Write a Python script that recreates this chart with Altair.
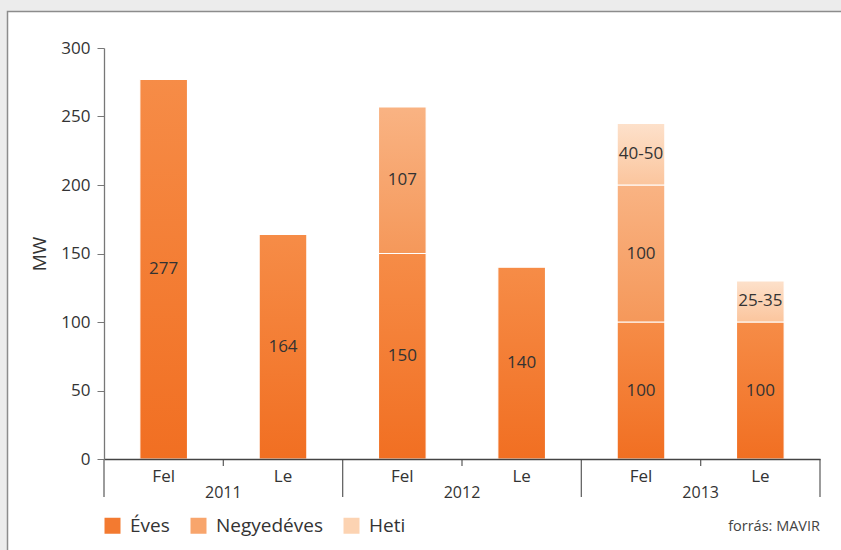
import altair as alt
import pandas as pd

FONT = "Open Sans"

# ---------------- data ----------------
years = ["2011", "2012", "2013"]
directions = ["Fel", "Le"]
segments = ["Éves", "Negyedéves", "Heti"]
eves = [277, 164, 150, 140, 100, 100]
negyedeves = [0, 0, 107, 0, 100, 0]
heti = [0, 0, 0, 0, 45, 30]
eves_labels = ["277", "164", "150", "140", "100", "100"]
negyed_labels = ["", "", "107", "", "100", ""]
heti_labels = ["", "", "", "", "40-50", "25-35"]
y_ticks = [0, 50, 100, 150, 200, 250, 300]
source_note = ["forrás: MAVIR"]

# ---------------- tables built from the lists ----------------
n_cats = len(years) * len(directions)
series = [(segments[0], eves, eves_labels),
          (segments[1], negyedeves, negyed_labels),
          (segments[2], heti, heti_labels)]
rows = []
for i in range(n_cats):
    for order, (seg, vals, labs) in enumerate(series):
        if vals[i] > 0:
            rows.append({"idx": i, "year": years[i // 2], "dir": directions[i % 2],
                         "segment": seg, "order": order, "value": vals[i], "label": labs[i]})
df = pd.DataFrame(rows)

cats_df = pd.DataFrame({"idx": list(range(n_cats)),
                        "dir": [directions[i % 2] for i in range(n_cats)]})
years_df = pd.DataFrame({"g": list(range(len(years))), "year": years})
long_sep = pd.DataFrame({"pos": [2 * g for g in range(len(years) + 1)]})
short_sep = pd.DataFrame({"pos": [2 * g + 1 for g in range(len(years))]})
note_df = pd.DataFrame({"t": source_note})

# ---------------- styling ----------------
xs = alt.Scale(domain=[0, n_cats], nice=False, zero=False)
ys = alt.Scale(domain=[0, 300], nice=False)
x_axis = alt.Axis(labels=False, ticks=False, grid=False, title=None,
                  domainColor="#444", domainWidth=1.3, zindex=2)
y_axis = alt.Axis(values=y_ticks, title="MW", titleFontSize=19, titleFontWeight="normal",
                  titleColor="#333", titlePadding=11, titleFont=FONT,
                  labelFontSize=17, labelColor="#333", labelPadding=7, labelFont=FONT,
                  tickSize=7, tickColor="#777", domainColor="#777", domainWidth=1.3,
                  grid=False, zindex=2)


def X(field):
    return alt.X(field, type="quantitative", scale=xs, axis=x_axis)


def Y(field):
    return alt.Y(field, type="quantitative", scale=ys, axis=y_axis)


def grad(top, bottom):
    return alt.Gradient(gradient="linear",
                        stops=[alt.GradientStop(color=top, offset=0),
                               alt.GradientStop(color=bottom, offset=1)],
                        x1=0, x2=0, y1=0, y2=1)


grads = {
    "Éves": grad("#f68c47", "#f16f22"),
    "Negyedéves": grad("#f9b383", "#f5985a"),
    "Heti": grad("#fde1cb", "#fbc59d"),
}
legend_colors = ["#f37a30", "#f8a56c", "#fcd3b2"]

# ---------------- layers ----------------
frame = alt.Chart(pd.DataFrame({"a": [0]})).mark_rect(
    fill="white", stroke="#8c8c8c", strokeWidth=1.5
).encode(x=alt.value(-96.5), y=alt.value(-36.5), x2=alt.value(900), y2=alt.value(700))

base = alt.Chart(df).transform_stack(
    stack="value", groupby=["idx"], as_=["y0", "y1"], sort=[alt.SortField("order")]
).transform_calculate(
    xl="datum.idx + 0.3", xr="datum.idx + 0.7", xc="datum.idx + 0.5",
    ymid="(datum.y0 + datum.y1) / 2"
)

bars = [
    base.transform_filter(alt.datum.segment == seg).mark_bar(
        fill=grads[seg], stroke="white", strokeWidth=1.2
    ).encode(x=X("xl"), x2="xr:Q", y=Y("y0"), y2="y1:Q")
    for seg in segments
]

labels = base.transform_filter(alt.datum.label != "").mark_text(
    fontSize=17, color="#333", font=FONT
).encode(x=X("xc"), y=Y("ymid"), text="label:N")

legend_layer = alt.Chart(df).mark_square(opacity=0).encode(
    x=X("idx"), y=Y("value"),
    color=alt.Color("segment:N", scale=alt.Scale(domain=segments, range=legend_colors),
                    legend=alt.Legend(orient="none", legendX=-1, legendY=468,
                                      direction="horizontal", title=None,
                                      symbolType="square", symbolSize=256,
                                      symbolOpacity=1, symbolStrokeWidth=0,
                                      labelFontSize=19, labelColor="#333", labelFont=FONT,
                                      labelOffset=8, columnPadding=19))
)

long_rules = alt.Chart(long_sep).mark_rule(color="#666", strokeWidth=1.3).encode(
    x=X("pos"), y=alt.value(411), y2=alt.value(449))
short_rules = alt.Chart(short_sep).mark_rule(color="#666", strokeWidth=1.3).encode(
    x=X("pos"), y=alt.value(411), y2=alt.value(418))

dir_text = alt.Chart(cats_df).transform_calculate(xc="datum.idx + 0.5").mark_text(
    fontSize=17, color="#333", font=FONT, baseline="middle"
).encode(x=X("xc"), y=alt.value(429), text="dir:N")

year_text = alt.Chart(years_df).transform_calculate(xc="datum.g * 2 + 1").mark_text(
    fontSize=16, color="#333", font=FONT, baseline="middle"
).encode(x=X("xc"), y=alt.value(445), text="year:N")

note = alt.Chart(note_df).mark_text(
    fontSize=14.5, color="#444", font=FONT, align="right", baseline="middle"
).encode(x=alt.value(716), y=alt.value(479), text="t:N")

chart = alt.layer(
    frame, *bars, labels, legend_layer, long_rules, short_rules, dir_text, year_text, note
).properties(
    width=716, height=411,
    autosize=alt.AutoSizeParams(type="none"),
    padding={"left": 104, "top": 48, "right": 21, "bottom": 91},
).configure(background="#ececec").configure_view(stroke=None)

chart.save("out.html", embed_options={"renderer": "svg", "actions": False})
